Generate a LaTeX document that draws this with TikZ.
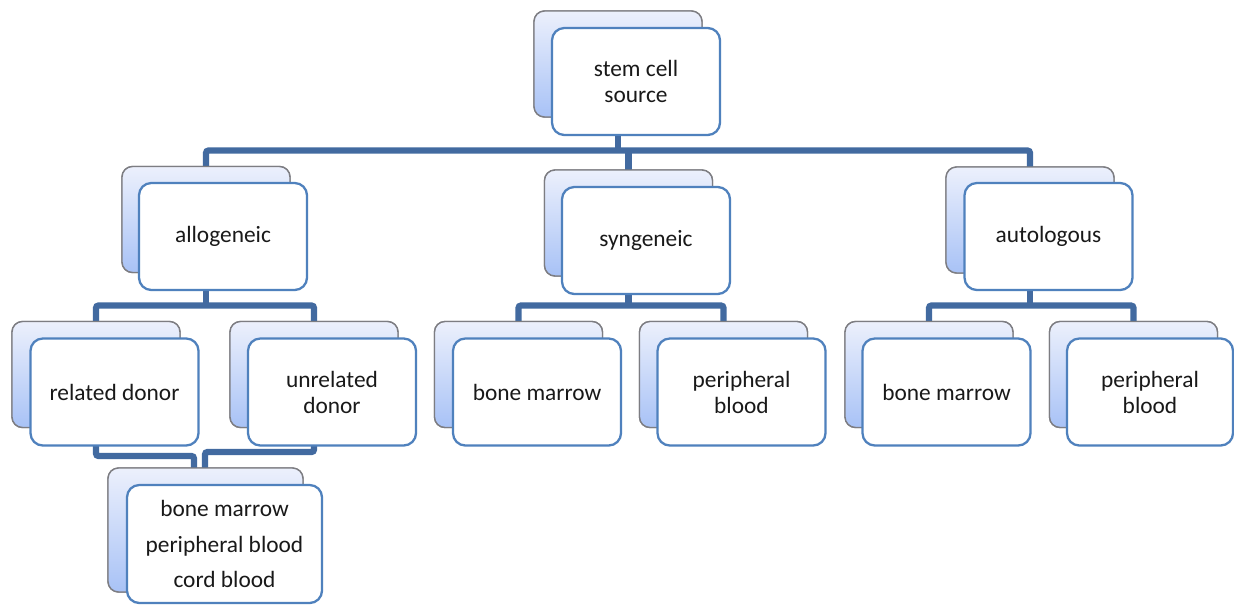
\documentclass[tikz,border=0pt]{standalone}
\usepackage{fontspec}
\setmainfont{Carlito}
\definecolor{connc}{RGB}{66,106,160}
\definecolor{frontc}{RGB}{79,129,189}
\definecolor{backtop}{RGB}{236,240,252}
\definecolor{backbot}{RGB}{168,194,246}
\definecolor{backdraw}{RGB}{125,125,130}
\begin{document}
\begin{tikzpicture}[x=0.02cm,y=-0.02cm,
  conn/.style={draw=connc,line width=3.6pt,rounded corners=1.5pt},
  backbox/.style={rectangle,rounded corners=6pt,draw=backdraw,line width=0.8pt,
    top color=backtop,bottom color=backbot,minimum width=168*0.02cm,
    minimum height=106*0.02cm,inner sep=0pt,outer sep=0pt},
  frontbox/.style={rectangle,rounded corners=7pt,draw=frontc,line width=1.3pt,
    fill=white,minimum width=168*0.02cm,minimum height=107*0.02cm,inner sep=0pt,
    outer sep=0pt,align=center,text=black!90,font=\fontsize{13.3}{14.8}\selectfont}]
\useasboundingbox (0,0) rectangle (1234,605);
\fill[white] (0,0) rectangle (1234,605);

% back boxes (named), placed first so connectors can reference them
\node[backbox] (topB) at (618,64) {};
\node[backbox] (alloB) at (206,219.5) {};
\node[backbox] (synB) at (628.5,223) {};
\node[backbox] (autoB) at (1030,220) {};
\node[backbox] (relB) at (96,374.5) {};
\node[backbox] (unrB) at (314,374.5) {};
\node[backbox] (sbmB) at (518.5,374.5) {};
\node[backbox] (spbB) at (723.5,374.5) {};
\node[backbox] (abmB) at (929,374.5) {};
\node[backbox] (apbB) at (1133.5,374.5) {};
\node[backbox,minimum width=195*0.02cm,minimum height=124*0.02cm] (botB) at (205.5,530) {};

% connectors
\coordinate (b1) at (0,150.5);
\coordinate (b2) at (0,305.5);
\coordinate (b3l) at (0,456);
\coordinate (b3r) at (0,452);
\coordinate (botL) at (194,468);
\coordinate (botR) at (205,468);
\draw[conn] (alloB.north) |- (autoB.north |- b1) -- (autoB.north);
\draw[conn] (topB.south) -- (topB.south |- b1);
\draw[conn] (synB.north) -- (synB.north |- b1);
\draw[conn] (relB.north) |- (unrB.north |- b2) -- (unrB.north);
\draw[conn] (alloB.south) -- (alloB.south |- b2);
\draw[conn] (sbmB.north) |- (spbB.north |- b2) -- (spbB.north);
\draw[conn] (synB.south) -- (synB.south |- b2);
\draw[conn] (abmB.north) |- (apbB.north |- b2) -- (apbB.north);
\draw[conn] (autoB.south) -- (autoB.south |- b2);
\draw[conn] (relB.south) |- (botL |- b3l) -- (botL);
\draw[conn] (unrB.south) |- (botR |- b3r) -- (botR);

% redraw back boxes over connectors
\foreach \n in {topB,alloB,synB,autoB,relB,unrB,sbmB,spbB,abmB,apbB}{
  \path[rounded corners=6pt,draw=backdraw,line width=0.8pt,top color=backtop,bottom color=backbot]
    (\n.north west) rectangle (\n.south east);
}
\path[rounded corners=6pt,draw=backdraw,line width=0.8pt,top color=backtop,bottom color=backbot]
    (botB.north west) rectangle (botB.south east);

% front boxes
\node[frontbox] (top) at (636,81.5) {stem cell\\source};
\node[frontbox] (allo) at (223,236.5) {allogeneic};
\node[frontbox] (syn) at (646,240.5) {syngeneic};
\node[frontbox] (auto) at (1048.5,236.5) {autologous};
\node[frontbox] (rel) at (114.5,392) {related donor};
\node[frontbox] (unr) at (332,392) {unrelated\\donor};
\node[frontbox] (sbm) at (537,392) {bone marrow};
\node[frontbox] (spb) at (741.5,392) {peripheral\\blood};
\node[frontbox] (abm) at (946.5,392) {bone marrow};
\node[frontbox,minimum width=166*0.02cm] (apb) at (1150,392) {peripheral\\blood};
\node[frontbox,minimum width=195*0.02cm,minimum height=118*0.02cm,
  font=\fontsize{13.3}{20.2}\selectfont] (bot) at (224.5,544) {bone marrow\\peripheral blood\\cord blood};
\end{tikzpicture}
\end{document}
